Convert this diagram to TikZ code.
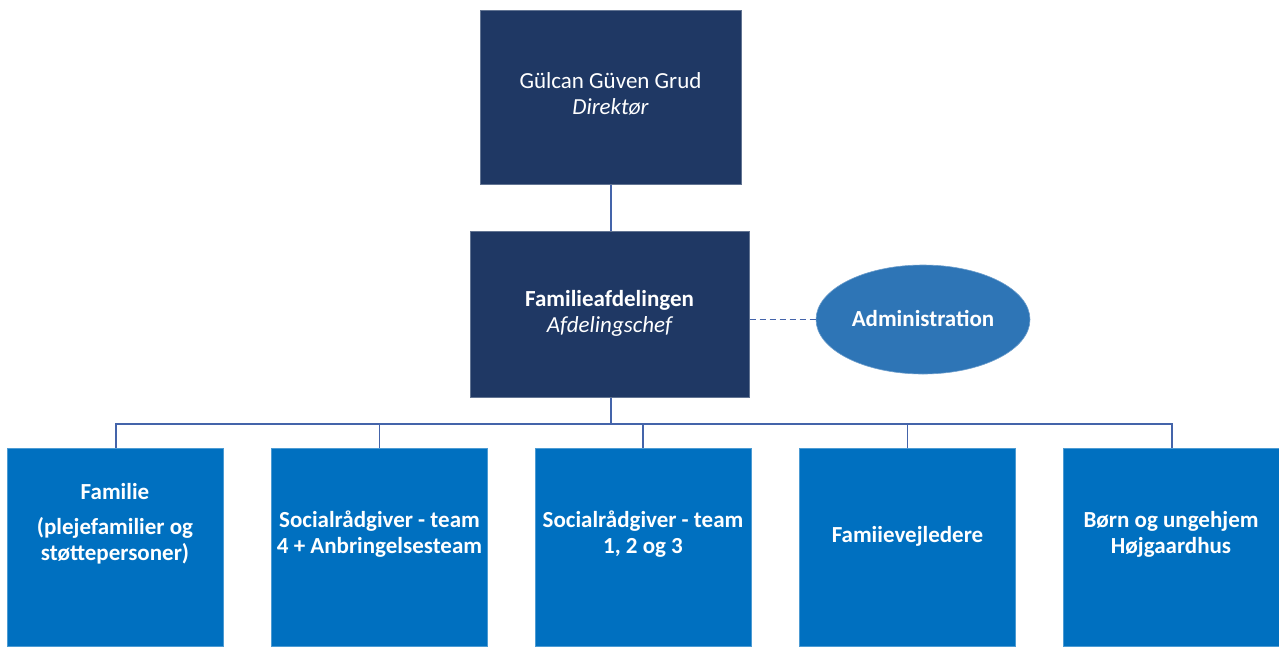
\documentclass[tikz,border=0pt]{standalone}
\usepackage{fontspec}
\setmainfont{Carlito}
\usetikzlibrary{shapes.geometric}
\definecolor{navy}{RGB}{31,56,100}
\definecolor{midblue}{RGB}{0,112,192}
\definecolor{ellblue}{RGB}{46,117,182}
\definecolor{linec}{RGB}{68,100,170}
\begin{document}
\begin{tikzpicture}[x=1pt,y=-1pt,
  topbox/.style={fill=navy,draw=navy!70!white,line width=0.6pt,inner sep=0pt},
  unitbox/.style={fill=midblue,draw=midblue!70!white,line width=0.6pt,inner sep=0pt,minimum width=216pt,minimum height=198pt,anchor=north},
  boxtext/.style={text=white,align=center,font=\fontsize{23}{26}\selectfont\bfseries},
  conn/.style={draw=linec,line width=1.6pt}]
\useasboundingbox (0,0) rectangle (1279,646);
% top
\node[topbox,minimum width=261pt,minimum height=174pt,anchor=north west] (dir) at (480,10) {};
\node[text=white,align=center,font=\fontsize{23}{26}\selectfont] (dirt) at (610.5,94) {Gülcan Güven Grud\\\itshape Direktør};
\node[topbox,minimum width=279pt,minimum height=166pt,anchor=north west] (fam) at (470,231) {};
\node[text=white,align=center,font=\fontsize{23}{26}\selectfont] (famt) at (609.5,313) {\bfseries Familieafdelingen\\\itshape Afdelingschef};
\node[ellipse,fill=ellblue,draw=ellblue!70!white,line width=0.6pt,minimum width=214pt,minimum height=109pt,inner sep=0pt] (adm) at (923,319.5) {};
\node[boxtext] (admt) at (923,318) {Administration};
\coordinate (trunk) at (611,424);
\draw[conn] (dir.south -| trunk) -- (fam.north -| trunk);
\draw[draw=linec,line width=1.5pt,dash pattern=on 6pt off 4pt] (fam.east |- adm.west) -- (adm.west);
% units
\node[unitbox] (u1) at (115,448) {};
\node[unitbox] (u2) at (379.5,448) {};
\node[unitbox] (u3) at (643,448) {};
\node[unitbox] (u4) at (907.5,448) {};
\node[unitbox,minimum width=218pt] (u5) at (1172,448) {};
\node[boxtext] (t1a) at (115,492) {Familie};
\node[boxtext] (t1b) at (115,541) {(plejefamilier og\\støttepersoner)};
\node[boxtext] (t2) at (379.5,534) {Socialrådgiver - team\\4 + Anbringelsesteam};
\node[boxtext] (t3) at (643,534) {Socialrådgiver - team\\1, 2 og 3};
\node[boxtext] (t4) at (907.5,536) {Famiievejledere};
\node[boxtext] (t5) at (1171,534) {Børn og ungehjem\\Højgaardhus};
% connectors
\draw[conn] (fam.south -| trunk) -- (trunk);
\draw[conn] (u1.north) ++(1,0) -- ++(0,-24) -| (u5.north);
\foreach \u in {u2,u3,u4}{\draw[conn] (\u.north) -- ++(0,-24);}
\end{tikzpicture}
\end{document}
